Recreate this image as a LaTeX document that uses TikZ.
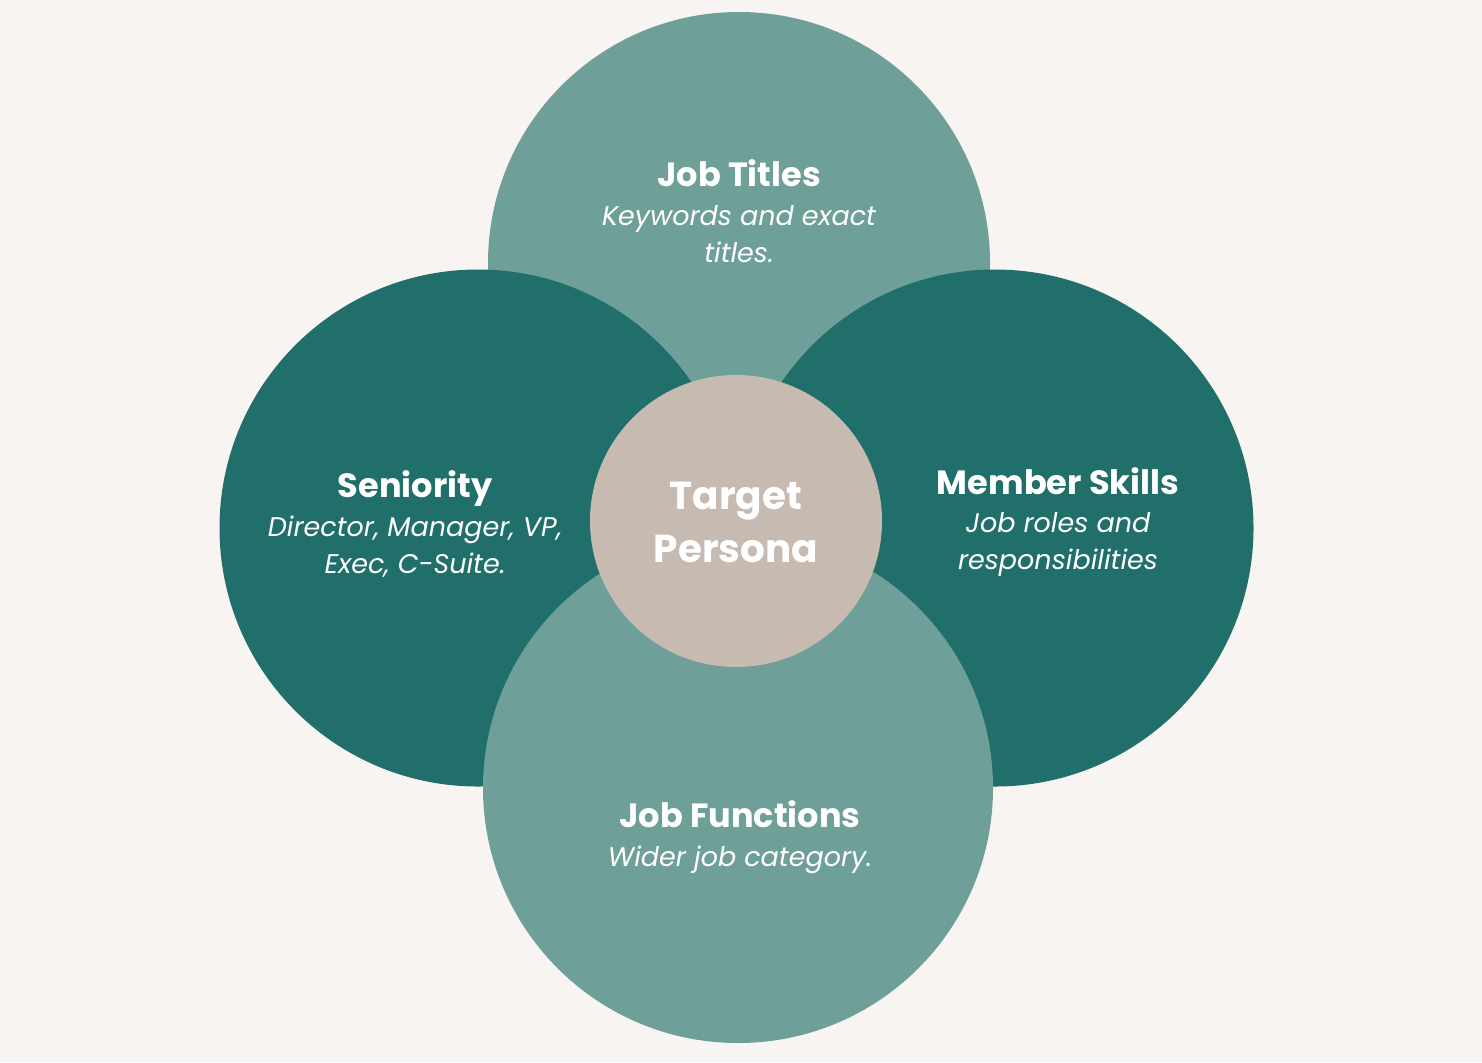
\documentclass[tikz,border=0pt]{standalone}
\usepackage{fontspec}
\setmainfont{Poppins}
\usepackage{tikz}
\usetikzlibrary{positioning}

\definecolor{bgcol}{HTML}{F8F4F1}
\definecolor{lightteal}{HTML}{6F9F99}
\definecolor{darkteal}{HTML}{216F6A}
\definecolor{personacol}{HTML}{C6BAB1}

\tikzset{
  blob/.style={circle, draw=none, inner sep=0pt},
  head/.style={text=white, anchor=base, font=\bfseries\fontsize{16.8}{20}\selectfont},
  sub/.style={text=white, anchor=base, align=center, font=\itshape\fontsize{13.5}{18.5}\selectfont},
}

\begin{document}
\begin{tikzpicture}[x=0.5pt, y=-0.5pt]
  \fill[bgcol] (0,0) rectangle (1482,1062);
  \useasboundingbox (0,0) rectangle (1482,1062);
  % circles, back to front
  \node[blob, fill=lightteal, minimum size=251pt] (titles) at (739,263) {};
  \node[blob, fill=darkteal, minimum size=258.5pt] (seniority) at (478,528) {};
  \node[blob, fill=darkteal, minimum size=258.5pt] (skills) at (995,528) {};
  \node[blob, fill=lightteal, minimum size=255pt] (functions) at (738,788) {};
  \node[blob, fill=personacol, minimum size=146pt] (persona) at (736,521) {};
  % labels (base = last line)
  \node[head] (titlesH) at (739,186) {Job Titles};
  \node[sub] (titlesT) at (739,262) {Keywords and exact\\titles.};
  \node[head] (seniorityH) at (415,497) {Seniority};
  \node[sub] (seniorityT) at (415,573) {Director, Manager, VP,\\Exec, C-Suite.};
  \node[head] (skillsH) at (1058,494) {Member Skills};
  \node[sub] (skillsT) at (1058,569) {Job roles and\\responsibilities};
  \node[head] (functionsH) at (740,827) {Job Functions};
  \node[sub] (functionsT) at (740,866) {Wider job category.};
  \node[head, align=center, font=\bfseries\fontsize{19.5}{26.5}\selectfont] (personaT) at (736,562) {Target\\Persona};
\end{tikzpicture}
\end{document}
